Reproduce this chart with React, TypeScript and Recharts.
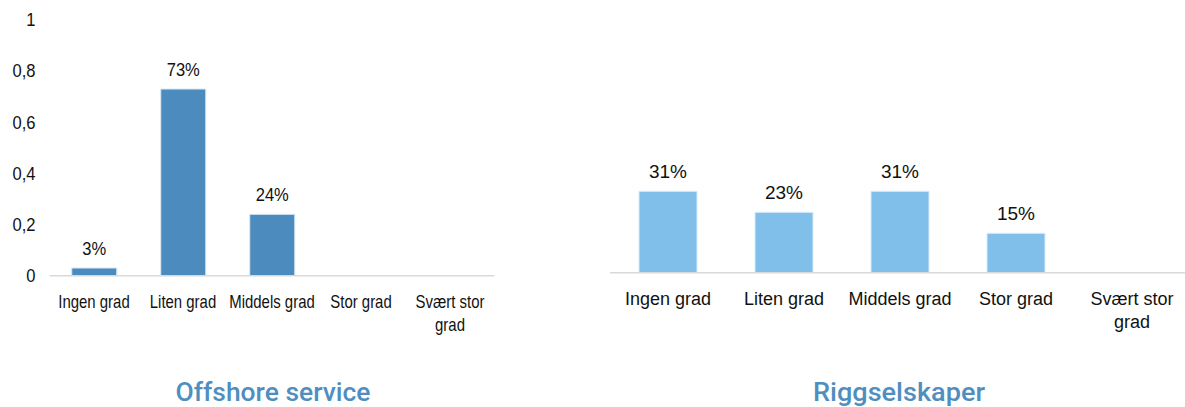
import React from 'react';
import { BarChart, Bar, XAxis, YAxis, LabelList } from 'recharts';

const categories = ['Ingen grad', 'Liten grad', 'Middels grad', 'Stor grad', 'Svært stor grad'];
const offshoreValues = [0.03, 0.73, 0.24, 0, 0];
const riggValues = [0.31, 0.23, 0.31, 0.15, 0];
const yTicks = [0, 0.2, 0.4, 0.6, 0.8, 1];
const titles = ['Offshore service', 'Riggselskaper'];

const offshoreData = categories.map((c, i) => ({ name: c, value: offshoreValues[i] }));
const riggData = categories.map((c, i) => ({ name: c, value: riggValues[i] }));

const FONT = '"Liberation Sans", Arial, sans-serif';
const TEXT = '#111';
const AXIS = '#d9d9d9';

const wrap = (s: string): string[] => {
  if (s.length <= 12) return [s];
  const k = s.lastIndexOf(' ');
  return [s.slice(0, k), s.slice(k + 1)];
};

const makeXTick = (fs: number, sx: number, dy: number) => (props: any) => {
  const { x, y, payload } = props;
  const lines = wrap(String(payload.value));
  return (
    <g transform={`translate(${x},${y})`}>
      <text transform={`scale(${sx},1)`} textAnchor="middle" fontSize={fs} fill={TEXT} fontFamily={FONT}>
        {lines.map((l, i) => (
          <tspan key={i} x={0} y={dy + i * 23}>{l}</tspan>
        ))}
      </text>
    </g>
  );
};

const makeYTick = (fs: number, sx: number, off: number) => (props: any) => {
  const { x, y, payload } = props;
  const label = String(payload.value).replace('.', ',');
  return (
    <g transform={`translate(${x - off},${y})`}>
      <text transform={`scale(${sx},1)`} textAnchor="end" dominantBaseline="central" fontSize={fs} fill={TEXT} fontFamily={FONT}>
        {label}
      </text>
    </g>
  );
};

const makeLabel = (fs: number, sx: number) => (props: any) => {
  const { x, y, width, value } = props;
  if (!value) return null;
  const cx = Number(x) + Number(width) / 2;
  return (
    <g transform={`translate(${cx},${Number(y) - 13})`}>
      <text transform={`scale(${sx},1)`} textAnchor="middle" fontSize={fs} fill={TEXT} fontFamily={FONT}>
        {Math.round(Number(value) * 100) + '%'}
      </text>
    </g>
  );
};

export default function App() {
  return (
    <div style={{ position: 'fixed', left: 0, top: 0, width: 1185, height: 407, overflow: 'hidden', background: '#fff' }}>
      <div style={{ position: 'absolute', left: 0, top: 0 }}>
        <BarChart
          width={500}
          height={340}
          data={offshoreData}
          margin={{ top: 20, right: 5.5, left: 9.5, bottom: 4.3 }}
          barCategoryGap="25%"
        >
          <XAxis
            dataKey="name"
            axisLine={{ stroke: AXIS, strokeWidth: 1.5 }}
            tickLine={false}
            tickSize={0}
            tickMargin={0}
            height={60}
            interval={0}
            tick={makeXTick(18, 0.83, 32)}
          />
          <YAxis
            domain={[0, 1]}
            ticks={yTicks}
            width={40}
            axisLine={false}
            tickLine={false}
            tickSize={0}
            tickMargin={0}
            interval={0}
            tick={makeYTick(18, 0.92, 14)}
          />
          <Bar dataKey="value" fill="#4B8BBE" stroke="#d6e6f3" strokeWidth={1} isAnimationActive={false}>
            <LabelList dataKey="value" content={makeLabel(18, 0.92)} />
          </Bar>
        </BarChart>
      </div>
      <div style={{ position: 'absolute', left: 560, top: 0 }}>
        <BarChart
          width={640}
          height={340}
          data={riggData}
          margin={{ top: 10.1, right: 10, left: 50, bottom: 7.3 }}
          barCategoryGap="25%"
        >
          <XAxis
            dataKey="name"
            axisLine={{ stroke: AXIS, strokeWidth: 1.5 }}
            tickLine={false}
            tickSize={0}
            tickMargin={0}
            height={60}
            interval={0}
            tick={makeXTick(18, 1, 32.5)}
          />
          <YAxis domain={[0, 1]} hide />
          <Bar dataKey="value" fill="#80BFE9" stroke="#d9ecf8" strokeWidth={1} isAnimationActive={false}>
            <LabelList dataKey="value" content={makeLabel(19, 1)} />
          </Bar>
        </BarChart>
      </div>
      <svg width={1185} height={407} style={{ position: 'absolute', left: 0, top: 0, pointerEvents: 'none' }}>
        <text x={273} y={401} textAnchor="middle" fontSize={26} fontWeight={500} fill="#4F8EC1" fontFamily="Roboto, sans-serif" textLength={195} lengthAdjust="spacingAndGlyphs">
          {titles[0]}
        </text>
        <text x={899} y={401} textAnchor="middle" fontSize={26} fontWeight={500} fill="#4F8EC1" fontFamily="Roboto, sans-serif" textLength={172} lengthAdjust="spacingAndGlyphs">
          {titles[1]}
        </text>
      </svg>
    </div>
  );
}
